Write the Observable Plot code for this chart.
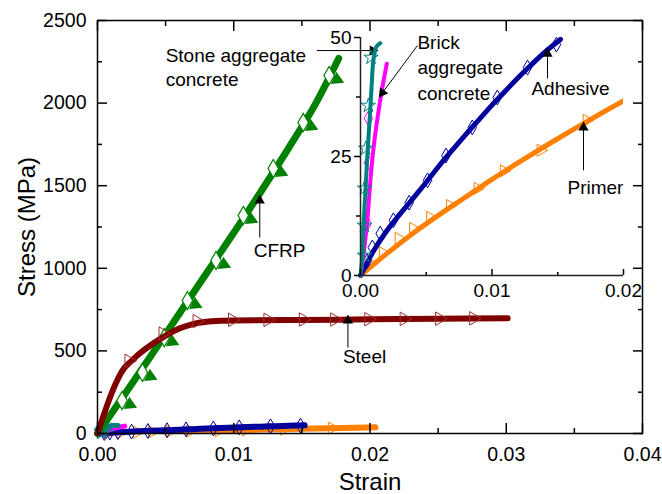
<!DOCTYPE html>
<html><head><meta charset="utf-8">
<script src="https://cdn.jsdelivr.net/npm/d3@7"></script>
<script src="https://cdn.jsdelivr.net/npm/@observablehq/plot@0.6"></script>
<style>
html,body{margin:0;padding:0;background:#fff;}
#wrap{position:relative;width:662px;height:494px;}
</style></head><body><div id="wrap"></div>
<script>
// ---------- data (strain, stress in MPa) ----------
const cfrpLineStrain = [0,0.001,0.002,0.004,0.006,0.008,0.010,0.012,0.014,0.016,0.0177];
const cfrpLineStress = [0,118,238,480,725,970,1215,1465,1725,1995,2270];
const cfrpPtStrain = [0.0018,0.0033,0.0049,0.0066,0.0087,0.0107,0.0129,0.0151,0.0170];
const cfrpPtStress = [200,369,580,805,1047,1320,1604,1883,2167];

const steelLineStrain = [0,0.002,0.0025,0.003,0.004,0.005,0.006,0.007,0.008,0.009,0.010,0.015,0.020,0.025,0.0301];
const steelLineStress = [0,400,440,478,540,593,635,662,676,682,684,687,691,695,698];
const steelPtStrain = [0.0023,0.0048,0.0073,0.0099,0.0125,0.0151,0.0174,0.0199,0.0225,0.0251,0.0276];
const steelPtStress = [440,605,680,688,688,690,690,692,694,695,697];

const adhLineStrain = [0,0.001,0.002,0.003,0.004,0.005,0.006,0.007,0.008,0.009,0.010,0.011,0.012,0.013,0.014,0.0152];
const adhLineStress = [0,5.2,9.4,12.9,16.2,19.6,23.1,26.4,29.6,32.7,35.8,38.7,41.6,44.3,46.9,49.6];
const adhPtStrain = [0.0005,0.0009,0.0015,0.0025,0.0037,0.0051,0.0065,0.0085,0.0104,0.0127,0.0149];
const adhPtStress = [3,5.9,8.8,11.6,15.3,20,25.2,31.1,37.4,43.7,48.5];

const primLineStrain = [0,0.002,0.004,0.006,0.008,0.010,0.012,0.014,0.016,0.018,0.0204];
const primLineStress = [0,4.6,8.9,12.8,16.5,20.2,23.7,27.1,30.4,33.6,37.3];
const primPtStrain = [0.0008,0.0017,0.0029,0.004,0.0053,0.0068,0.0089,0.0109,0.0137,0.0172];
const primPtStress = [2.5,4.8,7.8,9.9,12.2,14.7,18.3,22,26.3,32.6];

const stoneLineStrain = [0,0.00008,0.00015,0.00025,0.0004,0.00053,0.0007,0.00085,0.00095,0.00105,0.0012,0.0015];
const stoneLineStress = [0,2,4.6,11.5,19,25.6,33,40,44.5,46.5,48,48.8];
const stonePtStrain = [0.0003,0.0003,0.0003,0.0004,0.0006,0.0008];
const stonePtStress = [4.2,10.5,18.3,26.7,35.7,45.8];

const brickLineStrain = [0,0.0003,0.0005,0.0008,0.001,0.0013,0.0016,0.002];
const brickLineStress = [0,6,11,21.5,27,33.2,38.5,44.5];
const brickPtStrain = [0.0005,0.0006,0.0006];
const brickPtStress = [10.9,23.7,33];

// tick values and labels
const mainXMajor = [0,0.01,0.02,0.03,0.04];
const mainXMinor = [0.005,0.015,0.025,0.035];
const mainXLabels = ["0.00","0.01","0.02","0.03","0.04"];
const mainYMajor = [0,500,1000,1500,2000,2500];
const mainYMinor = [250,750,1250,1750,2250];
const insetXMajor = [0,0.01,0.02];
const insetXMinor = [0.005,0.015];
const insetXLabels = ["0.00","0.01","0.02"];
const insetYMajor = [0,25,50];
const insetYMinor = [12.5,37.5];

// annotations (data coordinates)
const mainNotes = [
  {x:0.0050, y:2349, t:"Stone aggregate\nconcrete", a:"top"},
  {x:0.01147, y:1108, t:"CFRP", a:"middle"},
  {x:0.01801, y:466, t:"Steel", a:"middle"}
];
const mainArrows = [
  {x1:0.0161, y1:2318, x2:0.0202, y2:2318, rot:90},
  {x1:0.01191, y1:1186, x2:0.01191, y2:1410, rot:0},
  {x1:0.01838, y1:520, x2:0.01838, y2:684, rot:0}
];
const insetNotes = [
  {x:0.00433, y:51.5, t:"Brick\naggregate\nconcrete", a:"top"},
  {x:0.0130, y:39.3, t:"Adhesive", a:"middle"},
  {x:0.01574, y:18.3, t:"Primer", a:"middle"}
];
const insetArrows = [
  {x1:0.00433, y1:48.3, x2:0.00167, y2:38.4, rot:215},
  {x1:0.01422, y1:41.4, x2:0.01422, y2:46.6, rot:0},
  {x1:0.01696, y1:22.1, x2:0.01696, y2:31.1, rot:0}
];

const FONT = "'Liberation Sans', Arial, sans-serif";
const zip = (xs, ys) => xs.map((x, i) => ({x, y: ys[i]}));

const C = {cfrp:"#008000", steel:"#800000", adh:"#00009c", prim:"#ff8000", stone:"#008080", brick:"#ff00ff"};

function seriesMarks(lineW) {
  return [
    Plot.dot(zip(primPtStrain, primPtStress), {x:"x", y:"y", symbol:"triangle", rotate:90, r:4.5, stroke:C.prim, fill:"none", strokeWidth:1}),
    Plot.line(zip(primLineStrain, primLineStress), {x:"x", y:"y", stroke:C.prim, strokeWidth:lineW, strokeLinecap:"round", curve:"monotone-x", clip:true}),
    Plot.line(zip(adhLineStrain, adhLineStress), {x:"x", y:"y", stroke:C.adh, strokeWidth:lineW, strokeLinecap:"round", curve:"monotone-x"}),
    Plot.dot(zip(adhPtStrain, adhPtStress), {x:"x", y:"y", symbol:"diamond", r:4.5, stroke:C.adh, fill:"none", strokeWidth:1}),
    Plot.dot(zip(brickPtStrain, brickPtStress), {x:"x", y:"y", symbol:"diamond", r:4.5, stroke:C.brick, fill:"none", strokeWidth:1}),
    Plot.line(zip(brickLineStrain, brickLineStress), {x:"x", y:"y", stroke:C.brick, strokeWidth:lineW-1, strokeLinecap:"round", curve:"catmull-rom"}),
    Plot.dot(zip(stonePtStrain, stonePtStress), {x:"x", y:"y", symbol:"star", r:4.5, stroke:C.stone, fill:"none", strokeWidth:1}),
    Plot.line(zip(stoneLineStrain, stoneLineStress), {x:"x", y:"y", stroke:C.stone, strokeWidth:lineW-1, strokeLinecap:"round", curve:"catmull-rom"})
  ];
}

function tickSet(axisFn, anchor, values, size) {
  return axisFn({ticks: values, anchor, tickSize: size, fill: "none", stroke: "black", strokeWidth: 1.5, label: null});
}

function arrowMarks(arrows) {
  return [
    Plot.link(arrows, {x1:"x1", y1:"y1", x2:"x2", y2:"y2", stroke:"black", strokeWidth:1}),
    Plot.dot(arrows, {x:"x2", y:"y2", symbol:"triangle", rotate:"rot", r:3.8, fill:"black", stroke:"none"})
  ];
}

// ---------- main chart ----------
const main = Plot.plot({
  width: 662, height: 494,
  marginLeft: 97, marginRight: 20, marginTop: 20, marginBottom: 61,
  x: {domain: [0, 0.04]},
  y: {domain: [0, 2500]},
  style: {fontFamily: FONT, background: "white", overflow: "visible"},
  marks: [
    ...seriesMarks(6),
    Plot.line(zip(cfrpLineStrain, cfrpLineStress), {x:"x", y:"y", stroke:C.cfrp, strokeWidth:7, strokeLinecap:"round", curve:"monotone-x"}),
    Plot.dot(zip(cfrpPtStrain, cfrpPtStress), {x:"x", y:"y", symbol:"diamond", r:5.5, stroke:C.cfrp, fill:"white", strokeWidth:1.2}),
    Plot.dot(zip(cfrpPtStrain, cfrpPtStress), {x:"x", y:"y", symbol:"triangle", rotate:235, r:5, fill:C.cfrp, dx:8, dy:4}),
    Plot.line(zip(steelLineStrain, steelLineStress), {x:"x", y:"y", stroke:C.steel, strokeWidth:6, strokeLinecap:"round", curve:"monotone-x"}),
    Plot.dot(zip(steelPtStrain, steelPtStress), {x:"x", y:"y", symbol:"triangle", rotate:90, r:5, stroke:"#a03030", fill:"none", strokeWidth:1}),
    Plot.frame({stroke:"black", strokeWidth:1.5}),
    tickSet(Plot.axisX, "bottom", mainXMajor, -10),
    tickSet(Plot.axisX, "bottom", mainXMinor, -5),
    tickSet(Plot.axisX, "top", mainXMajor, -10),
    tickSet(Plot.axisX, "top", mainXMinor, -5),
    tickSet(Plot.axisY, "left", mainYMajor, -10),
    tickSet(Plot.axisY, "left", mainYMinor, -5),
    tickSet(Plot.axisY, "right", mainYMajor, -10),
    tickSet(Plot.axisY, "right", mainYMinor, -5),
    Plot.axisX({ticks: mainXMajor, anchor:"bottom", tickSize:0, tickPadding:14, fontSize:19.5, fill:"black",
      tickFormat: d => mainXLabels[mainXMajor.indexOf(d)], label:null}),
    Plot.axisY({ticks: mainYMajor, anchor:"left", tickSize:0, tickPadding:11, fontSize:19.5, fill:"black",
      tickFormat: d => String(d), label:null}),
    Plot.text(["Strain"], {frameAnchor:"bottom", textAnchor:"middle", lineAnchor:"middle", dy:49, fontSize:24, fill:"black"}),
    Plot.text(["Stress (MPa)"], {frameAnchor:"left", textAnchor:"middle", lineAnchor:"middle", rotate:-90, dx:-70, fontSize:24, fill:"black"}),
    Plot.text(mainNotes, {x:"x", y:"y", text:"t", textAnchor:"start", lineAnchor:"top", lineHeight:1.25, fontSize:19, fill:"black",
      filter: d => d.a === "top"}),
    Plot.text(mainNotes, {x:"x", y:"y", text:"t", textAnchor:"start", lineAnchor:"middle", fontSize:19, fill:"black",
      filter: d => d.a === "middle"}),
    ...arrowMarks(mainArrows)
  ]
});

// ---------- inset ----------
const inset = Plot.plot({
  width: 343, height: 308,
  marginLeft: 40, marginRight: 40, marginTop: 37, marginBottom: 33,
  x: {domain: [0, 0.02]},
  y: {domain: [0, 50]},
  style: {fontFamily: FONT, background: "transparent", overflow: "visible"},
  marks: [
    ...seriesMarks(5),
    Plot.ruleX([0], {stroke:"#222", strokeWidth:1.5}),
    Plot.ruleY([0], {stroke:"#222", strokeWidth:1.5}),
    tickSet(Plot.axisY, "left", insetYMajor, 6),
    tickSet(Plot.axisY, "left", insetYMinor, 4),
    tickSet(Plot.axisX, "bottom", insetXMajor, -6),
    tickSet(Plot.axisX, "bottom", insetXMinor, -3),
    Plot.axisX({ticks: insetXMajor, anchor:"bottom", tickSize:0, tickPadding:8, fontSize:19, fill:"black",
      tickFormat: d => insetXLabels[insetXMajor.indexOf(d)], label:null}),
    Plot.axisY({ticks: insetYMajor, anchor:"left", tickSize:0, tickPadding:9, fontSize:19, fill:"black",
      tickFormat: d => String(d), label:null}),
    Plot.text(insetNotes, {x:"x", y:"y", text:"t", textAnchor:"start", lineAnchor:"top", lineHeight:1.35, fontSize:19, fill:"black",
      filter: d => d.a === "top"}),
    Plot.text(insetNotes, {x:"x", y:"y", text:"t", textAnchor:"start", lineAnchor:"middle", fontSize:19, fill:"black",
      filter: d => d.a === "middle"}),
    ...arrowMarks(insetArrows)
  ]
});
inset.style.position = "absolute";
inset.style.left = "320px";
inset.style.top = "0px";

const wrap = document.getElementById("wrap");
wrap.appendChild(main);
wrap.appendChild(inset);
</script>
</body></html>
